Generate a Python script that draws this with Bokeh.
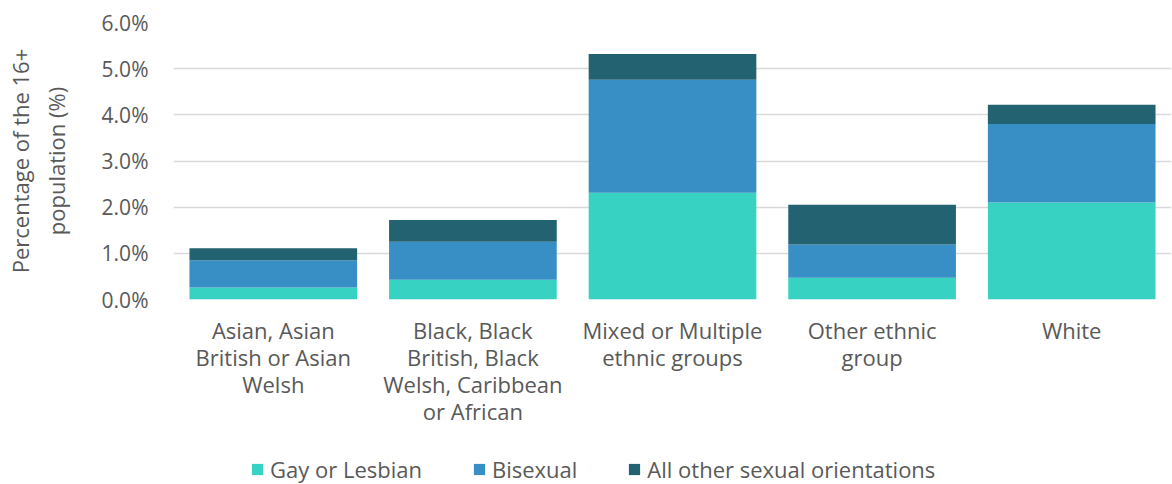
from bokeh.plotting import figure
from bokeh.layouts import column
from bokeh.models import ColumnDataSource, PrintfTickFormatter, Legend, LegendItem, FixedTicker
from bokeh.embed import file_html
from bokeh.resources import INLINE

categories = [
    "Asian, Asian\nBritish or Asian\nWelsh",
    "Black, Black\nBritish, Black\nWelsh, Caribbean\nor African",
    "Mixed or Multiple\nethnic groups",
    "Other ethnic\ngroup",
    "White",
]
series = ["Gay or Lesbian", "Bisexual", "All other sexual orientations"]
gay_lesbian = [0.26, 0.43, 2.31, 0.47, 2.10]
bisexual = [0.59, 0.82, 2.45, 0.72, 1.70]
all_other = [0.26, 0.47, 0.56, 0.86, 0.42]
colors = ["#38D2C2", "#388FC5", "#236270"]
y_ticks = [0, 1, 2, 3, 4, 5, 6]

FONT = "Open Sans"
GREY = "#595959"

source = ColumnDataSource(data={
    "cat": categories,
    series[0]: gay_lesbian,
    series[1]: bisexual,
    series[2]: all_other,
})

p = figure(
    x_range=categories, y_range=(0, 6),
    width=1172, height=452,
    output_backend="svg", toolbar_location=None,
    min_border_left=173, min_border_right=1, min_border_top=22, min_border_bottom=153,
)
p.outline_line_color = None

p.vbar_stack(series, x="cat", width=0.84, color=colors, source=source, line_color=None)

# y axis
p.yaxis.ticker = FixedTicker(ticks=y_ticks)
p.yaxis.formatter = PrintfTickFormatter(format="%.1f%%")
p.yaxis.axis_line_color = None
p.yaxis.major_tick_line_color = None
p.yaxis.minor_tick_line_color = None
p.yaxis.major_label_text_font = FONT
p.yaxis.major_label_text_font_size = "21px"
p.yaxis.major_label_text_color = GREY
p.yaxis.major_label_standoff = 19
p.yaxis.axis_label = "Percentage of the 16+\npopulation (%)"
p.yaxis.axis_label_text_font = FONT
p.yaxis.axis_label_text_font_size = "22px"
p.yaxis.axis_label_text_font_style = "normal"
p.yaxis.axis_label_text_color = GREY
p.yaxis.axis_label_text_line_height = 1.2
p.yaxis.axis_label_standoff = 28

# x axis
p.xaxis.axis_line_color = None
p.xaxis.major_tick_line_color = None
p.xaxis.minor_tick_line_color = None
p.xaxis.major_label_text_font = FONT
p.xaxis.major_label_text_font_size = "22px"
p.xaxis.major_label_text_color = GREY
p.xaxis.major_label_text_line_height = 0.91
p.xaxis.major_label_standoff = 9

p.xgrid.grid_line_color = None
p.ygrid.grid_line_color = "#D9D9D9"
p.ygrid.grid_line_width = 1.5

# legend strip below the chart (bars here sit outside the visible range)
lg = figure(
    x_range=p.x_range, y_range=(100, 132),
    width=1172, height=32,
    output_backend="svg", toolbar_location=None,
    min_border_left=173, min_border_right=1, min_border_top=0, min_border_bottom=0,
)
lg.axis.visible = False
lg.grid.visible = False
lg.outline_line_color = None
proxies = lg.vbar_stack(series, x="cat", width=0.84, color=colors, source=source,
                        line_color=None)

legend = Legend(
    items=[LegendItem(label=s, renderers=[r]) for s, r in zip(series, proxies)],
    orientation="horizontal",
    location=(77, 0),
    label_text_font=FONT,
    label_text_font_size="22px",
    label_text_color=GREY,
    glyph_width=14, glyph_height=14,
    label_standoff=6, spacing=50, padding=0, margin=0,
    border_line_color=None, background_fill_alpha=0,
)
lg.add_layout(legend, "center")

layout = column(p, lg, spacing=0)
open("out.html", "w").write(file_html(layout, INLINE))
